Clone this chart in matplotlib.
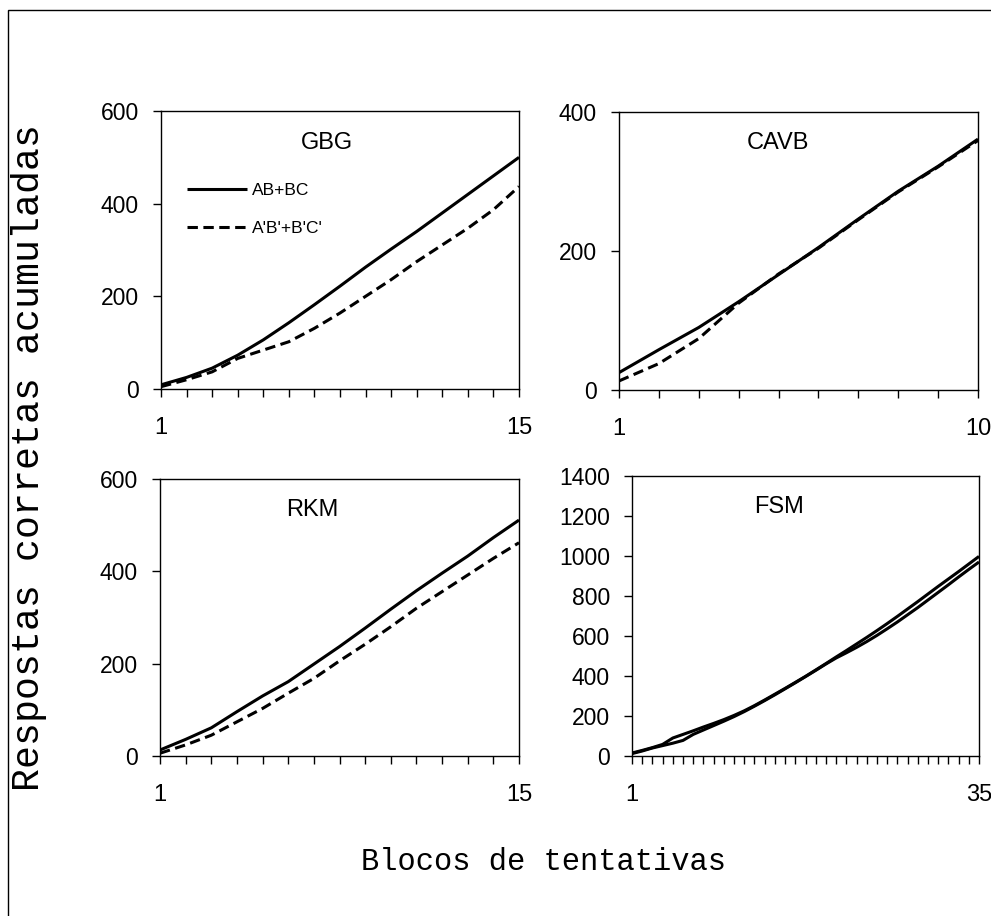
import matplotlib
matplotlib.use('Agg')
import matplotlib.pyplot as plt
import matplotlib.patches as mpatches
import numpy as np

# cumulative correct responses per block
gbg_solid = [9, 25, 45, 73, 106, 143, 182, 222, 263, 302, 340, 380, 420, 460, 500]
gbg_dash = [5, 20, 37, 66, 84, 102, 131, 164, 200, 236, 275, 311, 347, 387, 437]

cavb_solid = [25, 58, 90, 127, 166, 205, 246, 286, 322, 361]
cavb_dash = [13, 38, 74, 125, 167, 204, 245, 285, 321, 359]

rkm_solid = [13, 36, 61, 96, 130, 161, 199, 237, 277, 318, 358, 396, 433, 473, 511]
rkm_dash = [6, 24, 45, 74, 103, 136, 168, 206, 242, 280, 320, 356, 392, 428, 462]

fsm_a = [15, 28, 42, 58, 90, 108, 126, 145, 163, 182, 203, 226, 252, 280, 309, 338, 368, 398,
         430, 462, 495, 527, 560, 593, 627, 662, 698, 735, 772, 810, 848, 885, 922, 960, 998]
fsm_b = [12, 25, 40, 52, 64, 78, 108, 130, 152, 174, 197, 222, 249, 277, 306, 336, 366, 397,
         428, 460, 490, 516, 543, 572, 603, 636, 670, 706, 742, 780, 818, 856, 895, 933, 970]

names = ['GBG', 'CAVB', 'RKM', 'FSM']
ymax = [600, 400, 600, 1400]
ystep = [200, 200, 200, 200]
labels = ['AB+BC', "A'B'+B'C'"]

W, H = 991, 916
DASH = (0, (3.4, 1.8))

def px_axes(l, t, r, b):
    return [l / W, 1 - b / H, (r - l) / W, (b - t) / H]

boxes = [px_axes(161, 111, 519, 389), px_axes(619, 112, 978, 390),
         px_axes(160, 479, 519, 756), px_axes(632, 476, 979, 756)]
title_pos = [(0.464, 0.885), (0.443, 0.888), (0.423, 0.888), (0.424, 0.889)]

series = [(gbg_solid, gbg_dash, DASH), (cavb_solid, cavb_dash, DASH),
          (rkm_solid, rkm_dash, DASH), (fsm_a, fsm_b, '-')]

plt.rcParams['font.family'] = ['Liberation Sans', 'DejaVu Sans']

fig = plt.figure(figsize=(W / 100, H / 100), dpi=100)

for i in range(4):
    ax = fig.add_axes(boxes[i])
    s1, s2, ls2 = series[i]
    n = len(s1)
    x = np.arange(1, n + 1)
    ax.plot(x, s1, color='black', lw=2.2, ls='-', label=labels[0], solid_capstyle='butt')
    ax.plot(x, s2, color='black', lw=2.2, ls=ls2, label=labels[1], solid_capstyle='butt')
    ax.set_xlim(1, n)
    ax.set_ylim(0, ymax[i])
    ax.set_xticks(x)
    ax.set_xticklabels(['1'] + [''] * (n - 2) + [str(n)])
    ax.set_yticks(np.arange(0, ymax[i] + 1, ystep[i]))
    ax.tick_params(axis='x', direction='out', length=6, width=1, pad=14, labelsize=17)
    ax.tick_params(axis='y', direction='out', length=6, width=1, pad=10, labelsize=16.5)
    for sp in ax.spines.values():
        sp.set_linewidth(1.0)
        sp.set_color('black')
    ax.text(title_pos[i][0], title_pos[i][1], names[i], transform=ax.transAxes,
            ha='center', va='center', fontsize=17)
    if i == 0:
        ax.legend(loc='upper left', bbox_to_anchor=(0.073, 0.743), frameon=False,
                  fontsize=12.5, handlelength=3.45, handletextpad=0.3, labelspacing=1.33,
                  borderpad=0, borderaxespad=0)

fig.text(0.029, 0.501, 'Respostas corretas acumuladas', rotation=90, ha='center', va='center',
         family='Liberation Mono', fontsize=27.5)
fig.text(0.548, 0.059, 'Blocos de tentativas', ha='center', va='center',
         family='Liberation Mono', fontsize=22)

# outer frame, only left and top edges fall inside the image
fig.add_artist(mpatches.Rectangle((7.5 / W, -0.2), 1.5, 1.2 - 10 / H, transform=fig.transFigure,
                                  fill=False, lw=1.0, edgecolor='black'))

plt.savefig('out.png', dpi=100)
